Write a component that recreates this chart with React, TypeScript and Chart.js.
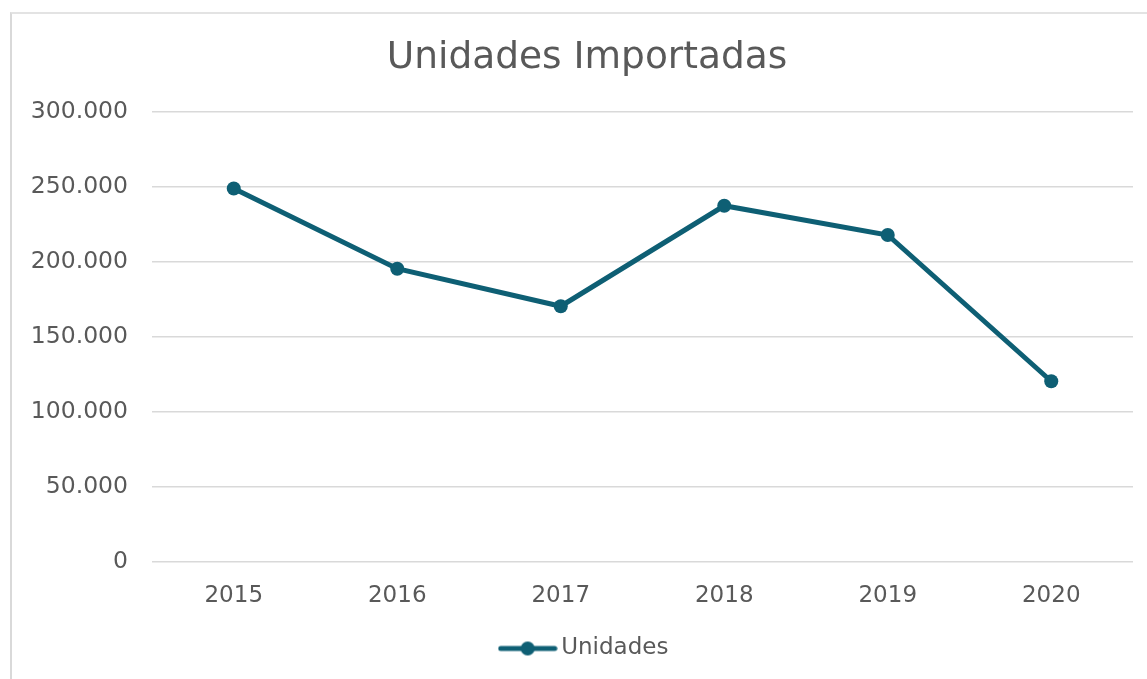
import React, { useEffect, useRef } from "react";
import { Chart, registerables } from "chart.js";

Chart.register(...registerables);

const title = "Unidades Importadas";
const years = ["2015", "2016", "2017", "2018", "2019", "2020"];
const seriesName = "Unidades";
const unidades = [249000, 195500, 170500, 237500, 218000, 120500];
const yTicks = [0, 50000, 100000, 150000, 200000, 250000, 300000];

const LINE = "#0e5f74";
const TEXT = "#595959";
const GRID = "#d9d9d9";
const FONT = "'DejaVu Sans', Verdana, sans-serif";

function fmt(v: number): string {
  return String(v).replace(/\B(?=(\d{3})+(?!\d))/g, ".");
}

function makeMarker(): HTMLCanvasElement {
  const c = document.createElement("canvas");
  c.width = 60;
  c.height = 16;
  const ctx = c.getContext("2d")!;
  ctx.strokeStyle = LINE;
  ctx.lineWidth = 5;
  ctx.lineCap = "round";
  ctx.beginPath();
  ctx.moveTo(3, 8);
  ctx.lineTo(57, 8);
  ctx.stroke();
  ctx.fillStyle = LINE;
  ctx.beginPath();
  ctx.arc(30, 8, 7, 0, Math.PI * 2);
  ctx.fill();
  return c;
}

export default function App() {
  const ref = useRef<HTMLCanvasElement | null>(null);

  useEffect(() => {
    if (!ref.current) return;
    const marker = makeMarker();
    const chart = new Chart(ref.current, {
      type: "line",
      data: {
        labels: years,
        datasets: [
          {
            label: seriesName,
            data: unidades,
            borderColor: LINE,
            backgroundColor: LINE,
            borderWidth: 5,
            pointRadius: 7,
            pointBackgroundColor: LINE,
            pointBorderColor: LINE,
            pointBorderWidth: 0,
            tension: 0,
            yAxisID: "y",
          },
        ],
      },
      options: {
        animation: false,
        responsive: false,
        maintainAspectRatio: false,
        layout: { padding: { left: 0, right: 0, top: 16, bottom: 10 } },
        scales: {
          x: {
            offset: true,
            grid: { display: false, drawTicks: false },
            border: { display: false },
            ticks: { color: TEXT, font: { family: FONT, size: 23 }, padding: 20 },
            afterFit: (s: any) => {
              s.height = 65;
            },
          },
          y: {
            min: 0,
            max: 300000,
            afterBuildTicks: (s: any) => {
              s.ticks = yTicks.map((v) => ({ value: v }));
            },
            grid: { color: GRID, lineWidth: 1.5, drawTicks: false },
            border: { display: false },
            ticks: {
              color: TEXT,
              font: { family: FONT, size: 23.5 },
              padding: 24,
              callback: (v: any) => fmt(Number(v)),
            },
            afterFit: (s: any) => {
              s.width = 140;
            },
          },
          yRight: {
            position: "right",
            display: true,
            min: 0,
            max: 300000,
            grid: { display: false, drawTicks: false },
            border: { display: false },
            ticks: { display: false },
            afterFit: (s: any) => {
              s.width = 29;
            },
          },
        },
        plugins: {
          title: {
            display: true,
            text: title,
            color: TEXT,
            font: { family: FONT, size: 37.5, weight: "normal" },
            padding: { top: 6, bottom: 31 },
          },
          legend: {
            position: "bottom",
            labels: {
              color: TEXT,
              font: { family: FONT, size: 23 },
              usePointStyle: true,
              pointStyleWidth: 44,
              padding: 10,
              generateLabels: (c: any) =>
                Chart.defaults.plugins.legend.labels
                  .generateLabels(c)
                  .map((l: any) => ({ ...l, pointStyle: marker, fontColor: TEXT })),
            },
          },
          tooltip: { enabled: false },
        },
      },
    });
    return () => chart.destroy();
  }, []);

  return (
    <div
      style={{
        position: "fixed",
        left: 0,
        top: 0,
        width: 1147,
        height: 679,
        background: "#fff",
        overflow: "hidden",
      }}
    >
      <div
        style={{
          position: "absolute",
          left: 10,
          top: 12,
          width: 1160,
          height: 670,
          borderLeft: "2px solid #d9d9d9",
          borderTop: "2px solid #e3e3e3",
          boxSizing: "border-box",
        }}
      >
        <canvas ref={ref} width={1150} height={666} style={{ display: "block" }} />
      </div>
    </div>
  );
}
